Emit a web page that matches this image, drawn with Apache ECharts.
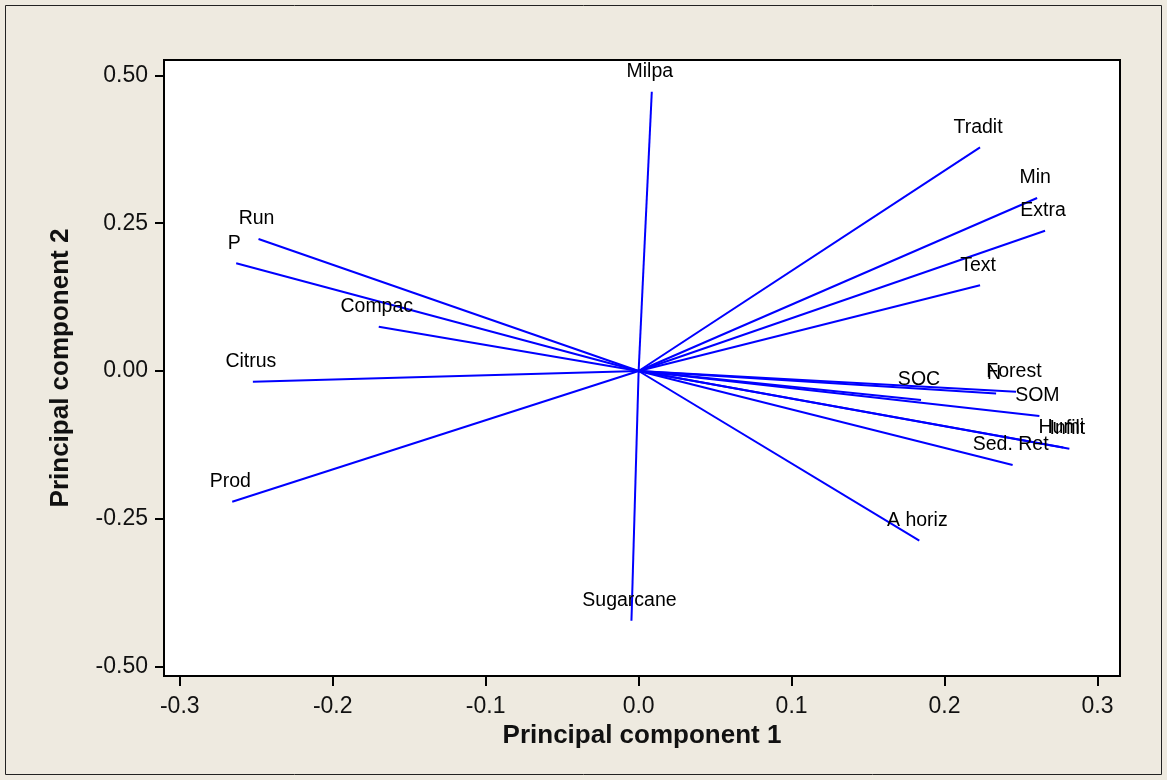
<!DOCTYPE html>
<html>
<head>
<meta charset="utf-8">
<title>PCA loadings</title>
<script src="https://cdn.jsdelivr.net/npm/echarts@6/dist/echarts.min.js"></script>
<style>
  html, body { margin: 0; padding: 0; background: #EEEAE0; }
  #chart { width: 1167px; height: 780px; }
</style>
</head>
<body>
<div id="chart"></div>
<script>
// loading vectors
const names = ['Milpa', 'Tradit', 'Min', 'Extra', 'Text', 'Forest', 'N', 'SOC', 'SOM',
  'Humi', 'Infilt', 'Sed. Ret', 'A horiz', 'Run', 'P', 'Compac', 'Citrus', 'Prod', 'Sugarcane']
const pc1 = [0.0086, 0.2232, 0.2605, 0.2657, 0.2232, 0.2467, 0.2337, 0.1846, 0.2620,
  0.2776, 0.2816, 0.2445, 0.1835, -0.2485, -0.2631, -0.1699, -0.2522, -0.2657, -0.0047]
const pc2 = [0.4726, 0.3785, 0.2927, 0.2374, 0.1450, -0.0350, -0.0379, -0.0491, -0.0761,
  -0.1296, -0.1315, -0.1590, -0.2871, 0.2234, 0.1822, 0.0750, -0.0181, -0.2212, -0.4225]

const xTicks = [-0.3, -0.2, -0.1, 0, 0.1, 0.2, 0.3]
const yTicks = [-0.5, -0.25, 0, 0.25, 0.5]

const chart = echarts.init(document.getElementById('chart'))

const vectorSeries = names.map((name, i) => ({
  name,
  type: 'line',
  data: [[0, 0], [pc1[i], pc2[i]]],
  symbol: 'none',
  silent: true,
  z: 3,
  lineStyle: { color: '#0000FF', width: 2 }
}))

const labelSeries = {
  type: 'scatter',
  symbolSize: 0,
  silent: true,
  z: 4,
  data: names.map((name, i) => ({ name, value: [pc1[i], pc2[i]] })),
  label: {
    show: true,
    position: 'top',
    distance: 10,
    offset: [-2, 0],
    formatter: (p) => p.name,
    color: '#000',
    opacity: 1,
    fontFamily: 'Liberation Sans',
    fontSize: 19.5
  }
}

const tickFont = { fontFamily: 'Liberation Sans', fontSize: 23, color: '#111' }

chart.setOption({
  backgroundColor: '#EEEAE0',
  animation: false,
  graphic: [{
    type: 'rect',
    shape: { x: 5.5, y: 5.5, width: 1156, height: 769 },
    style: { fill: 'none', stroke: '#222', lineWidth: 1 },
    silent: true
  }],
  grid: {
    left: 164,
    top: 60,
    right: 47,
    bottom: 104,
    show: true,
    backgroundColor: '#fff',
    borderColor: '#000',
    borderWidth: 2
  },
  xAxis: {
    type: 'value',
    min: -0.3103,
    max: 0.3147,
    splitLine: { show: false },
    axisLine: { onZero: false, lineStyle: { color: '#000', width: 2 } },
    axisTick: { length: 10, customValues: xTicks, lineStyle: { color: '#000', width: 2 } },
    axisLabel: Object.assign({ margin: 19, customValues: xTicks, formatter: (v) => v.toFixed(1) }, tickFont),
    name: 'Principal component 1',
    nameLocation: 'middle',
    nameGap: 45,
    nameTextStyle: { fontFamily: 'Liberation Sans', fontWeight: 'bold', fontSize: 26, color: '#111' }
  },
  yAxis: {
    type: 'value',
    min: -0.5161,
    max: 0.5262,
    splitLine: { show: false },
    axisLine: { onZero: false, lineStyle: { color: '#000', width: 2 } },
    axisTick: { length: 9, customValues: yTicks, lineStyle: { color: '#000', width: 2 } },
    axisLabel: Object.assign({ margin: 16, customValues: yTicks, formatter: (v) => v.toFixed(2) }, tickFont),
    name: 'Principal component 2',
    nameLocation: 'middle',
    nameGap: 90,
    nameTextStyle: { fontFamily: 'Liberation Sans', fontWeight: 'bold', fontSize: 26, color: '#111' }
  },
  series: vectorSeries.concat([labelSeries])
})
</script>
</body>
</html>
